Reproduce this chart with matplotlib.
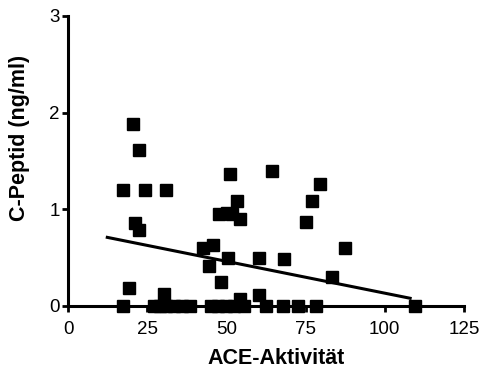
import matplotlib
matplotlib.use("Agg")
import matplotlib.pyplot as plt

plt.rcParams['font.family'] = ['Liberation Sans', 'DejaVu Sans']

# ACE activity (x) and C-peptide (y)
ace_nonzero = [20.6, 22.3, 17.3, 24.3, 30.9, 21.2, 22.4, 19.4, 30.2,
               51.0, 64.4, 79.5, 77.0, 53.2, 75.2,
               47.8, 50.1, 51.7, 54.3,
               42.5, 45.7, 44.6, 48.3, 50.4, 60.3, 68.3, 87.4, 83.2,
               54.3, 60.3]
cpep_nonzero = [1.88, 1.61, 1.20, 1.20, 1.20, 0.855, 0.79, 0.19, 0.12,
                1.37, 1.40, 1.26, 1.09, 1.09, 0.87,
                0.95, 0.96, 0.95, 0.90,
                0.60, 0.63, 0.41, 0.25, 0.50, 0.50, 0.49, 0.60, 0.30,
                0.07, 0.11]
ace_zero = [17.3, 27.0, 29.0, 31.0, 33.5, 36.0, 38.5,
            45.0, 47.5, 50.0, 52.5, 55.5, 62.4, 68.0, 72.5, 78.3, 109.5]
cpep_zero = [0.0] * len(ace_zero)

ace = ace_nonzero + ace_zero
cpep = cpep_nonzero + cpep_zero

# regression line endpoints
fit_x = [12.4, 108.0]
fit_y = [0.71, 0.08]

x_ticks = [0, 25, 50, 75, 100, 125]
y_ticks = [0, 1, 2, 3]

fig = plt.figure(figsize=(4.88, 3.74), dpi=100)
ax = fig.add_axes([68/488, 1-306/374, 396/488, 290/374])

ax.plot(ace, cpep, linestyle='none', marker='s', markersize=9.3,
        color='black', clip_on=False, zorder=3)
ax.plot(fit_x, fit_y, color='black', linewidth=2.2, zorder=2)

ax.set_xlim(0, 125)
ax.set_ylim(0, 3)
ax.set_xticks(x_ticks)
ax.set_yticks(y_ticks)
for s in ['top', 'right']:
    ax.spines[s].set_visible(False)
for s in ['left', 'bottom']:
    ax.spines[s].set_linewidth(2.2)
ax.tick_params(direction='out', length=4, width=2.0, labelsize=13.5)
ax.tick_params(axis='x', pad=7)
ax.tick_params(axis='y', pad=2)

ax.set_xlabel('ACE-Aktivität', fontsize=15.5, fontweight='bold')
ax.set_ylabel('C-Peptid (ng/ml)', fontsize=15.5, fontweight='bold')
ax.xaxis.set_label_coords(0.525, -0.145)
ax.yaxis.set_label_coords(-0.095, 0.58)

fig.savefig('out.png', dpi=100)
